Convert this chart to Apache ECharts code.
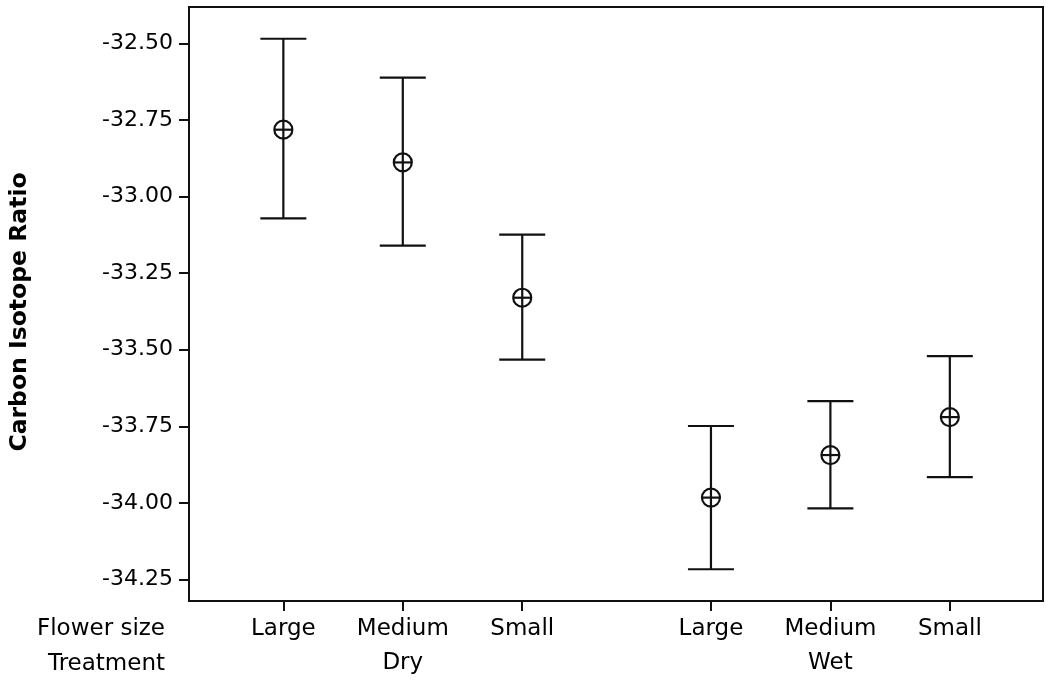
<!DOCTYPE html>
<html>
<head>
<meta charset="utf-8">
<script src="https://cdn.jsdelivr.net/npm/echarts@6/dist/echarts.min.js"></script>
<style>html,body{margin:0;padding:0;background:#fff}#c{width:1050px;height:688px}</style>
</head>
<body>
<div id="c"></div>
<script>
// ---- data ----
const flowerSizes = ['Large', 'Medium', 'Small'];
const treatments = ['Dry', 'Wet'];
const meanDry  = [-32.781, -32.888, -33.330];
const lowerDry = [-33.071, -33.160, -33.532];
const upperDry = [-32.484, -32.611, -33.124];
const meanWet  = [-33.983, -33.844, -33.720];
const lowerWet = [-34.217, -34.018, -33.916];
const upperWet = [-33.749, -33.668, -33.521];
const yTicks = [-34.25, -34.00, -33.75, -33.50, -33.25, -33.00, -32.75, -32.50];
const yTitle = 'Carbon Isotope Ratio';
const rowTitles = ['Flower size', 'Treatment'];

// ---- layout helpers ----
const GROUP_GAP = 0.58;
const means = [meanDry, meanWet], lowers = [lowerDry, lowerWet], uppers = [upperDry, upperWet];
function pos(g, i) { return 1 + g * (flowerSizes.length + GROUP_GAP) + i; }

const barData = [];
const sizeTickVals = [], sizeLabelMap = {};
const treatTickVals = [], treatLabelMap = {};
treatments.forEach((t, g) => {
  flowerSizes.forEach((s, i) => {
    const x = pos(g, i);
    barData.push([x, means[g][i], lowers[g][i], uppers[g][i]]);
    sizeTickVals.push(x);
    sizeLabelMap[x.toFixed(3)] = s;
  });
  const c = pos(g, (flowerSizes.length - 1) / 2);
  treatTickVals.push(c);
  treatLabelMap[c.toFixed(3)] = t;
});

const FONT = 'DejaVu Sans';
const INK = '#111';
const TXT = '#000';
const xMin = 0.21, xMax = 7.36;

const chart = echarts.init(document.getElementById('c'), null, {renderer: 'canvas'});
chart.setOption({
  animation: false,
  backgroundColor: '#fff',
  grid: {left: 189, right: 7, top: 7, bottom: 87, show: true, borderColor: INK, borderWidth: 2,
         containLabel: false, outerBoundsMode: 'none'},
  xAxis: [
    {
      type: 'value', min: xMin, max: xMax, position: 'bottom',
      axisLine: {show: true, lineStyle: {color: INK, width: 2}},
      axisTick: {show: true, length: 10, lineStyle: {color: INK, width: 2}, customValues: sizeTickVals},
      axisLabel: {show: true, margin: 17, color: TXT, fontFamily: FONT, fontSize: 23,
                  customValues: sizeTickVals,
                  formatter: v => sizeLabelMap[Number(v).toFixed(3)] || ''},
      splitLine: {show: false}
    },
    {
      type: 'value', min: xMin, max: xMax, position: 'bottom', gridIndex: 0,
      axisLine: {show: false}, axisTick: {show: false},
      axisLabel: {show: true, margin: 51, color: TXT, fontFamily: FONT, fontSize: 23,
                  customValues: treatTickVals,
                  formatter: v => treatLabelMap[Number(v).toFixed(3)] || ''},
      splitLine: {show: false}
    }
  ],
  yAxis: {
    type: 'value', min: -34.3208, max: -32.3802,
    name: yTitle, nameLocation: 'middle', nameGap: 157,
    nameTextStyle: {fontFamily: FONT, fontSize: 23.5, fontWeight: 'bold', color: TXT, padding: [0, 16, 0, 0]},
    axisLine: {show: true, lineStyle: {color: INK, width: 2}},
    axisTick: {show: true, length: 10, lineStyle: {color: INK, width: 2}, customValues: yTicks},
    axisLabel: {show: true, margin: 16, color: TXT, fontFamily: FONT, fontSize: 22,
                customValues: yTicks, formatter: v => Number(v).toFixed(2)},
    splitLine: {show: false}
  },
  graphic: rowTitles.map((t, k) => ({
    type: 'text', right: 1050 - 165, top: k === 0 ? 618 : 653,
    style: {text: t, fontFamily: FONT, fontSize: 23, fill: TXT, textAlign: 'right'}
  })),
  series: [{
    type: 'custom',
    data: barData,
    clip: false,
    renderItem: function (params, api) {
      const x = api.value(0);
      const p = api.coord([x, api.value(1)]);
      const pl = api.coord([x, api.value(2)]);
      const ph = api.coord([x, api.value(3)]);
      const hw = 23, r = 9;
      const st = {stroke: INK, lineWidth: 2.2, fill: null};
      return {
        type: 'group',
        children: [
          {type: 'line', shape: {x1: ph[0], y1: ph[1], x2: pl[0], y2: pl[1]}, style: st},
          {type: 'line', shape: {x1: ph[0] - hw, y1: ph[1], x2: ph[0] + hw, y2: ph[1]}, style: st},
          {type: 'line', shape: {x1: pl[0] - hw, y1: pl[1], x2: pl[0] + hw, y2: pl[1]}, style: st},
          {type: 'circle', shape: {cx: p[0], cy: p[1], r: r}, style: {stroke: INK, lineWidth: 2.2, fill: 'none'}},
          {type: 'line', shape: {x1: p[0] - r, y1: p[1], x2: p[0] + r, y2: p[1]}, style: st}
        ]
      };
    }
  }]
});
</script>
</body>
</html>
